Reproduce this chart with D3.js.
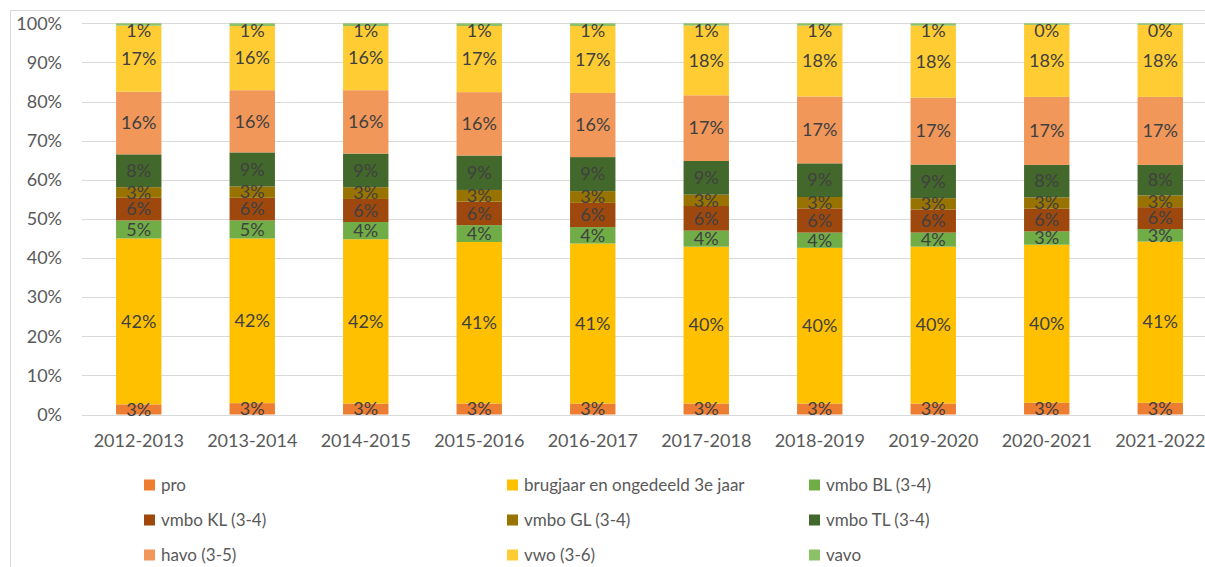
<!DOCTYPE html>
<html>
<head>
<meta charset="utf-8">
<script src="https://cdn.jsdelivr.net/npm/d3@7"></script>
<style>
  body { margin: 0; background: #fff; }
  text { font-family: Lato, "Open Sans", sans-serif; }
</style>
</head>
<body>
<script>
// school years (categories)
var years = ["2012-2013", "2013-2014", "2014-2015", "2015-2016", "2016-2017",
	"2017-2018", "2018-2019", "2019-2020", "2020-2021", "2021-2022"];

// series names, bottom to top
var seriesNames = ["pro", "brugjaar en ongedeeld 3e jaar", "vmbo BL (3-4)", "vmbo KL (3-4)",
	"vmbo GL (3-4)", "vmbo TL (3-4)", "havo (3-5)", "vwo (3-6)", "vavo"];

// share per year, in percent
var pro      = [2.6, 2.9, 2.8, 2.8, 2.8, 2.8, 2.8, 2.8, 3.0, 3.0];
var brugjaar = [42.4, 42.1, 42.0, 41.3, 40.9, 40.1, 39.8, 40.1, 40.4, 41.2];
var vmboBL   = [4.6, 4.6, 4.4, 4.3, 4.2, 4.1, 3.9, 3.6, 3.4, 3.2];
var vmboKL   = [5.8, 5.8, 5.9, 6.0, 6.2, 6.3, 6.2, 5.9, 5.8, 5.6];
var vmboGL   = [2.7, 2.9, 3.0, 3.0, 3.0, 2.9, 2.9, 2.9, 2.9, 3.0];
var vmboTL   = [8.4, 8.7, 8.6, 8.8, 8.7, 8.6, 8.6, 8.6, 8.3, 7.8];
var havo     = [16.0, 15.9, 16.2, 16.2, 16.4, 16.8, 17.1, 17.1, 17.4, 17.4];
var vwo      = [16.9, 16.4, 16.4, 16.9, 17.1, 17.8, 18.1, 18.4, 18.4, 18.4];
var vavo     = [0.6, 0.7, 0.7, 0.7, 0.7, 0.6, 0.6, 0.6, 0.4, 0.4];

var yTicks = [0, 0.1, 0.2, 0.3, 0.4, 0.5, 0.6, 0.7, 0.8, 0.9, 1];

var colors = ["#ED7D31", "#FFC000", "#70AD47", "#9E480E", "#997300",
	"#43682B", "#F1975A", "#FFCD33", "#8CC168"];

var seriesValues = [pro, brugjaar, vmboBL, vmboKL, vmboGL, vmboTL, havo, vwo, vavo];

var W = 1205, H = 567;
var plot = {left: 82, right: 1217, top: 23.3, bottom: 414.5};

var table = years.map(function (yr, i) {
	var row = {year: yr};
	seriesNames.forEach(function (s, j) { row[s] = seriesValues[j][i]; });
	return row;
});

var layers = d3.stack().keys(seriesNames)(table);

var x = d3.scaleBand().domain(years).range([plot.left, plot.right])
	.paddingInner(0.6).paddingOuter(0.3);
var y = d3.scaleLinear().domain([0, 100]).range([plot.bottom, plot.top]);

var svg = d3.select("body").append("svg")
	.attr("width", W)
	.attr("height", H);

// chart border
svg.append("path")
	.attr("d", "M10.5," + H + "V10.5H" + W)
	.attr("fill", "none")
	.attr("stroke", "#d9d9d9")
	.attr("stroke-width", 1);

// gridlines
svg.append("g")
	.selectAll("line")
	.data(yTicks)
	.enter().append("line")
	.attr("x1", plot.left)
	.attr("x2", plot.right)
	.attr("y1", function (d) { return Math.round(y(d * 100)) + 0.5; })
	.attr("y2", function (d) { return Math.round(y(d * 100)) + 0.5; })
	.attr("stroke", "#d9d9d9")
	.attr("stroke-width", 1.2);

// y axis labels
var yPct = d3.scaleLinear().domain([0, 1]).range(y.range());
var yAxis = svg.append("g")
	.attr("transform", "translate(" + (plot.left - 20) + ",0)")
	.call(d3.axisLeft(yPct).tickValues(yTicks).tickSize(0).tickPadding(0)
		.tickFormat(d3.format(".0%")));
yAxis.select(".domain").remove();
yAxis.selectAll("text")
	.attr("fill", "#595959")
	.style("font-size", "18px")
	.style("font-family", "Lato, sans-serif");

// x axis labels
var xAxis = svg.append("g")
	.attr("transform", "translate(0," + plot.bottom + ")")
	.call(d3.axisBottom(x).tickSize(0).tickPadding(20));
xAxis.select(".domain").remove();
xAxis.selectAll("text")
	.attr("fill", "#595959")
	.style("font-size", "18px")
	.style("font-family", "Lato, sans-serif");

// bars
var groups = svg.append("g")
	.selectAll("g")
	.data(layers)
	.enter().append("g")
	.attr("fill", function (d, i) { return colors[i]; });

groups.selectAll("rect")
	.data(function (d) { return d; })
	.enter().append("rect")
	.attr("x", function (d) { return x(d.data.year); })
	.attr("y", function (d) { return y(d[1]); })
	.attr("width", x.bandwidth())
	.attr("height", function (d) { return y(d[0]) - y(d[1]); });

// data labels
var labelGroups = svg.append("g")
	.selectAll("g")
	.data(layers)
	.enter().append("g");

labelGroups.selectAll("text")
	.data(function (d) { return d; })
	.enter().append("text")
	.attr("x", function (d) { return x(d.data.year) + x.bandwidth() / 2; })
	.attr("y", function (d) {
		var cy = (y(d[0]) + y(d[1])) / 2;
		return Math.min(Math.max(cy, plot.top + 7), plot.bottom - 4);
	})
	.attr("dy", "0.35em")
	.attr("text-anchor", "middle")
	.attr("fill", "#404040")
	.style("font-size", "18px")
	.text(function (d) { return Math.round(d[1] - d[0] + 1e-9) + "%"; });

// legend
var legendCols = [144, 507, 809];
var legendRows = [485, 520, 555];

var legend = svg.append("g")
	.selectAll("g")
	.data(seriesNames)
	.enter().append("g")
	.attr("transform", function (d, i) {
		return "translate(" + legendCols[i % 3] + "," + legendRows[Math.floor(i / 3)] + ")";
	});

legend.append("rect")
	.attr("x", 0)
	.attr("y", -5.5)
	.attr("width", 11)
	.attr("height", 11)
	.attr("fill", function (d, i) { return colors[i]; });

legend.append("text")
	.attr("x", 17)
	.attr("dy", "0.35em")
	.attr("fill", "#595959")
	.style("font-size", "17px")
	.text(function (d) { return d; });
</script>
</body>
</html>
